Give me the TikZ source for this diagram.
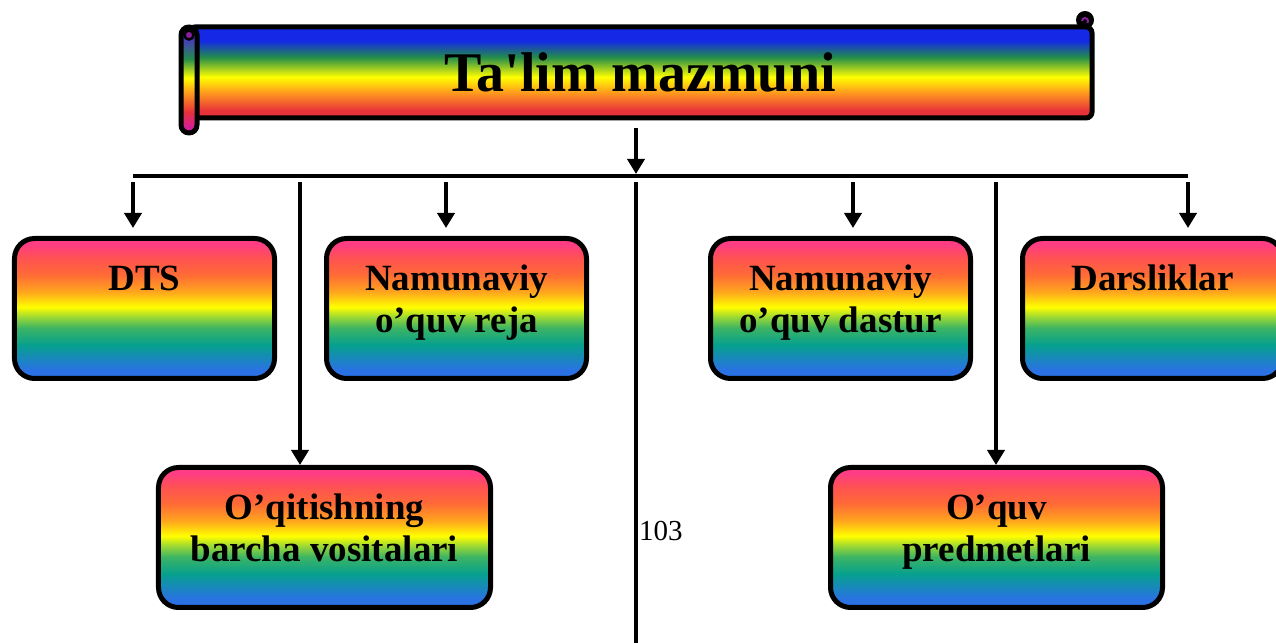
\documentclass[tikz,border=0pt]{standalone}
\usepackage{fontspec}
\setmainfont{Liberation Serif}
\newfontfamily\tnr{Liberation Serif}
\usetikzlibrary{arrows.meta}

\definecolor{bxpink}{HTML}{FF3D85}
\definecolor{bxred}{HTML}{FF5252}
\definecolor{bxorange}{HTML}{FF6B35}
\definecolor{bxamber}{HTML}{FFA51E}
\definecolor{bxyellow}{HTML}{FFFF00}
\definecolor{bxlime}{HTML}{9BD834}
\definecolor{bxgreen}{HTML}{3CB464}
\definecolor{bxteal}{HTML}{06A08E}
\definecolor{bxblue}{HTML}{2A72E4}
\definecolor{bnblue}{HTML}{1428E6}
\definecolor{bngreen}{HTML}{238C4B}
\definecolor{bnorange}{HTML}{FF9A1E}
\definecolor{bnred}{HTML}{E8323A}
\definecolor{rlpurple}{HTML}{4A34C8}
\definecolor{rlmagenta}{HTML}{D21E9B}
\definecolor{curl}{HTML}{8A1E9E}

\pgfdeclareverticalshading{boxshade}{100bp}{color(0bp)=(bxblue); color(28bp)=(bxblue); color(37bp)=(bxteal); color(43bp)=(bxgreen); color(47bp)=(bxlime); color(50.5bp)=(bxyellow); color(56bp)=(bxamber); color(62bp)=(bxorange); color(68bp)=(bxred); color(73bp)=(bxpink); color(100bp)=(bxpink)}
\pgfdeclareverticalshading{bannershade}{100bp}{color(0bp)=(bnred); color(29bp)=(bnred); color(39bp)=(bnorange); color(47.5bp)=(bxyellow); color(58.5bp)=(bngreen); color(67.5bp)=(bnblue); color(100bp)=(bnblue)}
\pgfdeclareverticalshading{rollshade}{100bp}{color(0bp)=(rlmagenta); color(27.5bp)=(rlmagenta); color(35bp)=(bnred); color(44bp)=(bnorange); color(51bp)=(bxyellow); color(60bp)=(bngreen); color(70bp)=(rlpurple); color(100bp)=(rlpurple)}

\begin{document}
\begin{tikzpicture}[x=1bp,y=1bp,
  box/.style={draw,line width=5bp,rounded corners=20bp,shading=boxshade,
    minimum height=140bp,align=center,text height=30bp,text depth=65bp,
    font=\tnr\bfseries\fontsize{37bp}{42bp}\selectfont},
  twoline/.style={text height=72bp,text depth=23bp},
  link/.style={line width=3.8bp},
  arr/.style={line width=3.8bp,-{Triangle[length=15bp,width=17bp]}}]
\clip (0,0) rectangle (1276,643);

\shade[shading=bannershade,draw,line width=5bp,rounded corners=6bp] (189,525) rectangle (1092,616);
\shade[shading=rollshade,draw,line width=5bp,rounded corners=8bp] (181,510) rectangle (197,616);
\filldraw[fill=curl,line width=2.5bp] (189,608) circle (4.5bp);
\fill (1085,623) circle (9bp);
\draw[curl,line width=2bp] (1082,622) arc[start angle=180,end angle=-40,radius=3bp];
\node[font=\tnr\bfseries\fontsize{56bp}{60bp}\selectfont,anchor=base] (title) at (640,551) {Ta'lim mazmuni};

\node[box,minimum width=260bp] (dts) at (144.5,334.5) {DTS};
\node[box,twoline,minimum width=260bp] (reja) at (456.5,334.5) {Namunaviy\\o’quv reja};
\node[box,twoline,minimum width=260bp] (dastur) at (840.5,334.5) {Namunaviy\\o’quv dastur};
\node[box,minimum width=260bp] (darslik) at (1152.5,334.5) {Darsliklar};
\node[box,twoline,minimum width=332bp] (vosita) at (324.5,105.5) {O’qitishning\\barcha vositalari};
\node[box,twoline,minimum width=332bp] (predmet) at (996.5,105.5) {O’quv\\predmetlari};
\node[font=\tnr\fontsize{29bp}{32bp}\selectfont,anchor=base west,inner sep=0pt] (page) at (639,102) {103};

\coordinate (stem) at (636,515);
\coordinate (foot) at (636,-10);
\coordinate (busl) at (133,467);
\coordinate (busr) at (1188,467);
\coordinate (dreja) at (446,467);
\coordinate (ddastur) at (853,467);
\coordinate (dvosita) at (300,467);
\coordinate (dpredmet) at (996,467);

\draw[link] (busl) -- (busr);
\draw[arr,shorten >=2bp] (stem) -- (stem |- busl);
\draw[link,shorten <=6bp] (stem |- busl) -- (foot);
\draw[arr,shorten <=6bp,shorten >=8bp] (busl) -- (busl |- dts.north);
\draw[arr,shorten <=6bp,shorten >=8bp] (dreja) -- (dreja |- reja.north);
\draw[arr,shorten <=6bp,shorten >=8bp] (ddastur) -- (ddastur |- dastur.north);
\draw[arr,shorten <=6bp,shorten >=8bp] (busr) -- (busr |- darslik.north);
\draw[arr,shorten <=6bp] (dvosita) -- (dvosita |- vosita.north);
\draw[arr,shorten <=6bp] (dpredmet) -- (dpredmet |- predmet.north);
\end{tikzpicture}
\end{document}
